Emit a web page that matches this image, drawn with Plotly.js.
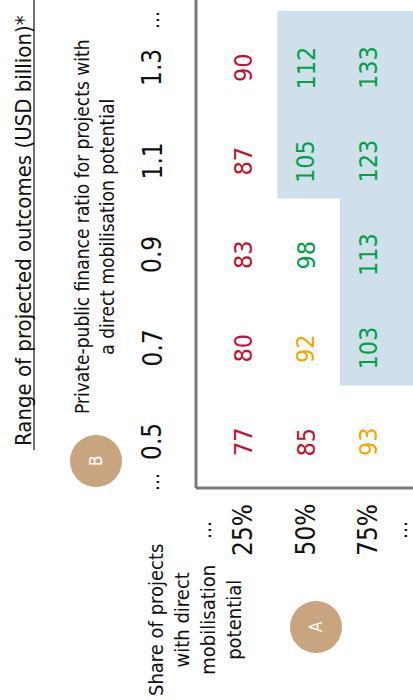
<!DOCTYPE html>
<html>
<head>
<meta charset="utf-8">
<script src="https://cdn.plot.ly/plotly-3.0.1.min.js"></script>
<style>html,body{margin:0;padding:0;background:#fff;}#chart{width:413px;height:700px;}</style>
</head>
<body>
<div id="chart"></div>
<script>
// ---- data ----
const ratioLabels = ['0.5', '0.7', '0.9', '1.1', '1.3'];
const shareLabels = ['25%', '50%', '75%'];
const outcomes25 = [77, 80, 83, 87, 90];
const outcomes50 = [85, 92, 98, 105, 112];
const outcomes75 = [93, 103, 113, 123, 133];
const titleText = 'Range of projected outcomes (USD billion)*';
const ratioTitle = 'Private-public finance ratio for projects with<br>a direct mobilisation potential';
const shareTitle = 'Share of projects<br>with direct<br>mobilisation<br>potential';

// ---- style / layout constants ----
const FONT = '"Liberation Sans Narrow", "DejaVu Sans Condensed", "Liberation Sans", sans-serif';
const RED = '#c8102e', ORANGE = '#f7a600', GREEN = '#00a04a';
const SHADE = '#d0e0ea', TAN = '#c8a580', GRAY = '#7a7a7a';
const rowX = i => 243 + 62.5 * i;      // screen x of share rows
const colY = j => 442 - 93.5 * j;      // screen y of ratio columns

const rows = [outcomes25, outcomes50, outcomes75];
const colorFor = v => v <= 90 ? RED : (v < 95 ? ORANGE : GREEN);

const ann = [];
const shapes = [];
const T = (x, y, text, size, color, extra) => ann.push(Object.assign({
  x, y, xref: 'x', yref: 'y', text, showarrow: false, textangle: -90,
  xanchor: 'center', yanchor: 'middle',
  font: {family: FONT, size, color: color || '#111'}
}, extra || {}));

// shading for cells >= 100
rows.forEach((vals, i) => vals.forEach((v, j) => {
  if (v >= 100) shapes.push({type: 'rect', xref: 'x', yref: 'y',
    x0: rowX(i) - 28, x1: rowX(i) + 46, y0: colY(j) + 37, y1: colY(j) - 57,
    fillcolor: SHADE, line: {width: 0}, layer: 'below'});
}));

// frame lines
shapes.push({type: 'line', xref: 'x', yref: 'y', x0: 196, x1: 196, y0: 0, y1: 488, line: {color: GRAY, width: 3}});
shapes.push({type: 'line', xref: 'x', yref: 'y', x0: 196, x1: 413, y0: 488, y1: 488, line: {color: GRAY, width: 3}});
// title underline
shapes.push({type: 'line', xref: 'x', yref: 'y', x0: 34, x1: 34, y0: 0, y1: 450, line: {color: '#222', width: 1.3}});
// badges
shapes.push({type: 'circle', xref: 'x', yref: 'y', x0: 70, x1: 122, y0: 435, y1: 487, fillcolor: TAN, line: {width: 0}});
shapes.push({type: 'circle', xref: 'x', yref: 'y', x0: 290, x1: 342, y0: 601, y1: 653, fillcolor: TAN, line: {width: 0}});

// titles
T(23, 231, titleText, 22);
T(94, 227, ratioTitle, 19);
T(195, 620, shareTitle, 20);
T(96, 461, 'B', 17, '#fff');
T(316, 627, 'A', 17, '#fff');

// column headers
ratioLabels.forEach((r, j) => T(152, colY(j), r, 26));
T(152, 20, '…', 20);
T(152, 482, '…', 20);

// row headers
shareLabels.forEach((s, i) => T(rowX(i), 530, s, 26));
T(204, 530, '…', 20);
T(400, 530, '…', 20);

// cell values
rows.forEach((vals, i) => vals.forEach((v, j) => T(rowX(i), colY(j), String(v), 25, colorFor(v))));

Plotly.newPlot('chart', [{x: [], y: [], type: 'scatter', hoverinfo: 'skip'}], {
  width: 413, height: 700,
  margin: {l: 0, r: 0, t: 0, b: 0},
  paper_bgcolor: '#fff', plot_bgcolor: '#fff',
  showlegend: false,
  xaxis: {range: [0, 413], visible: false, fixedrange: true},
  yaxis: {range: [700, 0], visible: false, fixedrange: true},
  shapes, annotations: ann
}, {staticPlot: true, displayModeBar: false});
</script>
</body>
</html>
